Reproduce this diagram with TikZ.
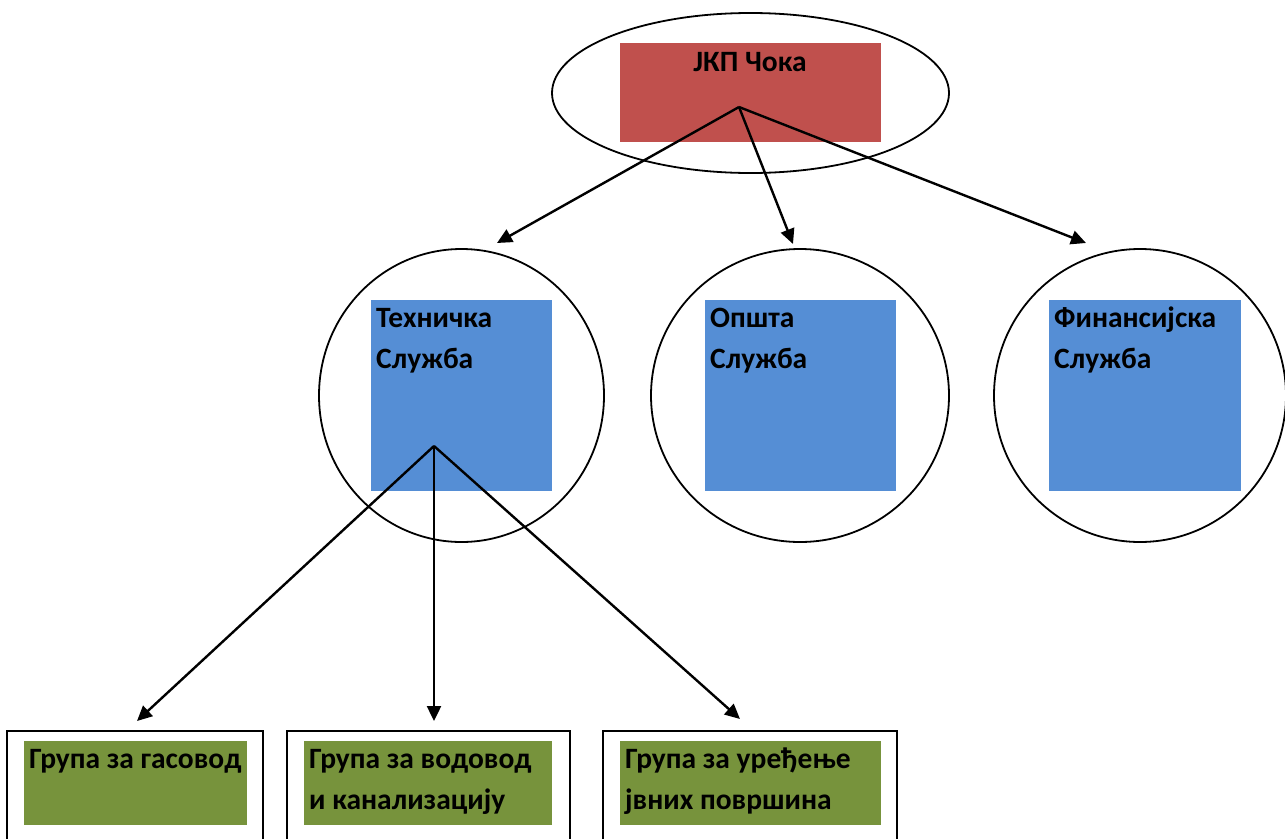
\documentclass[tikz,border=0pt]{standalone}
\usepackage{fontspec}
\setmainfont{Carlito}
\usetikzlibrary{arrows.meta,shapes.geometric}
\definecolor{redbox}{HTML}{C0504D}
\definecolor{bluebox}{HTML}{558ED5}
\definecolor{greenbox}{HTML}{77933C}
\begin{document}
\begin{tikzpicture}[x=1pt,y=-1pt,
  ring/.style={draw=black, line width=1.8pt, ellipse, inner sep=0pt},
  panel/.style={inner sep=0pt, outer sep=0pt},
  frame/.style={draw=black, line width=2pt},
  lbl/.style={font=\fontsize{29.5}{41}\selectfont\bfseries, inner sep=0pt, align=left, anchor=base west},
  conn/.style={line width=2.4pt, -{Triangle[length=15pt,width=14pt]}}]
\useasboundingbox (0,0) rectangle (1285,838);
% top
\node[ring, minimum width=397pt, minimum height=160pt] (top) at (750.5,93) {};
\node[panel, fill=redbox, minimum width=261pt, minimum height=99pt] (jkpbox) at (750.5,92.5) {};
\node[lbl, anchor=base] (jkp) at (750,71) {ЈКП Чока};
\coordinate (s0) at (739,107);
% middle circles
\node[ring, minimum width=285pt, minimum height=293pt] (c1) at (461.5,395.5) {};
\node[ring, minimum width=298pt, minimum height=293pt] (c2) at (800,395.5) {};
\node[ring, minimum width=292pt, minimum height=293pt] (c3) at (1140,395.5) {};
\node[panel, fill=bluebox, minimum width=181pt, minimum height=191pt] (b1) at (461.5,395.5) {};
\node[panel, fill=bluebox, minimum width=191pt, minimum height=191pt] (b2) at (800.5,395.5) {};
\node[panel, fill=bluebox, minimum width=192pt, minimum height=191pt] (b3) at (1145,395.5) {};
% anchor base west = baseline of the last line
\node[lbl] (t1) at (376,368) {Техничка\\Служба};
\node[lbl] (t2) at (710,368) {Општа\\Служба};
\node[lbl] (t3) at (1054,368) {Финансијска\\Служба};
\coordinate (s1) at (434,446);
% arrows from top
\coordinate (e1) at (497,243);
\coordinate (e2) at (793,244);
\coordinate (e3) at (1086,243);
\draw[conn] (s0) -- (e1);
\draw[conn] (s0) -- (e2);
\draw[conn] (s0) -- (e3);
% bottom boxes
\draw[frame] (7,731) rectangle (263,850);
\draw[frame] (287,731) rectangle (570,850);
\draw[frame] (603,731) rectangle (897,850);
\node[panel, fill=greenbox, minimum width=223pt, minimum height=84pt] (g1) at (135.5,783) {};
\node[panel, fill=greenbox, minimum width=248pt, minimum height=84pt] (g2) at (428,783) {};
\node[panel, fill=greenbox, minimum width=261pt, minimum height=84pt] (g3) at (750.5,783) {};
\node[lbl] (u1) at (29,768) {Група за гасовод};
\node[lbl] (u2) at (309,809) {Група за водовод\\и канализацију};
\node[lbl] (u3) at (625,809) {Група за уређење\\јвних површина};
\coordinate (f1) at (137,721);
\coordinate (f2) at (434,721);
\coordinate (f3) at (740,719);
\draw[conn] (s1) -- (f1);
\draw[conn] (s1) -- (f2);
\draw[conn] (s1) -- (f3);
\end{tikzpicture}
\end{document}
